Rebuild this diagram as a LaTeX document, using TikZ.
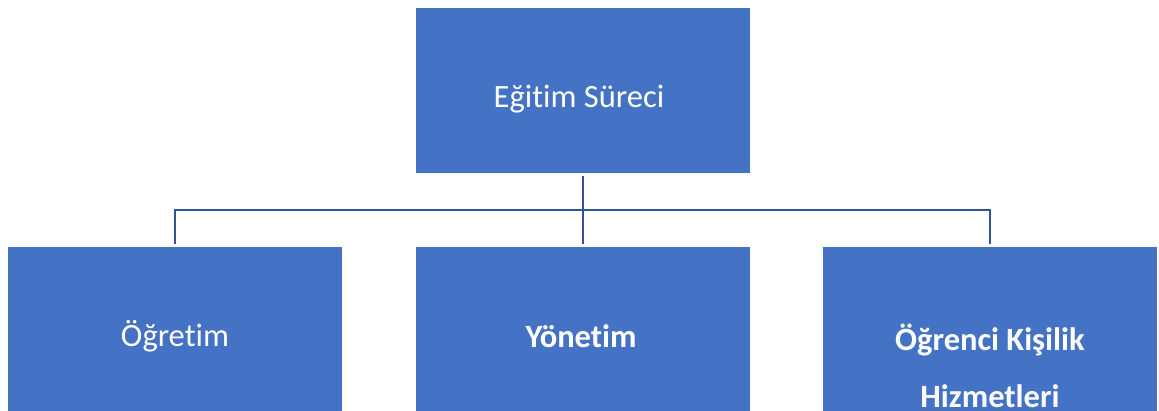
\documentclass[tikz,border=0pt]{standalone}
\usepackage{fontspec}
\setmainfont{Carlito}[RawFeature={-liga}]
\definecolor{boxblue}{HTML}{4472C4}
\definecolor{linkblue}{HTML}{2F5597}
\begin{document}
\begin{tikzpicture}[x=1pt,y=-1pt,
  unit/.style={rectangle, fill=boxblue, draw=none, minimum width=334pt, inner sep=0pt},
  lbl/.style={text=white, align=center, inner sep=0pt, font=\fontsize{32.5}{57}\selectfont},
  link/.style={draw=linkblue, line width=2.6pt}]
\useasboundingbox (0,0) rectangle (1159,410);
\begin{scope}
\clip (0,0) rectangle (1159,410);
\node[unit, minimum height=165pt] (top) at (583,90.5) {};
\node[unit, minimum height=178pt] (left) at (175,336) {};
\node[unit, minimum height=178pt] (mid) at (583,336) {};
\node[unit, minimum height=178pt] (right) at (990,336) {};
\node[lbl] (ttext) at (579,99) {Eğitim Süreci};
\node[lbl] (ltext) at (175,336) {Öğretim};
\node[lbl, font=\fontsize{32.5}{57}\selectfont\bfseries] (mtext) at (581,336) {Yönetim};
\node[lbl, font=\fontsize{32.5}{57}\selectfont\bfseries] (rtext) at (990,366) {Öğrenci Kişilik\\Hizmetleri};
\end{scope}
\coordinate (j) at (583,210);
\draw[link] ([yshift=-3pt]top.south) -- ([yshift=3pt]mid.north);
\draw[link] ([yshift=3pt]left.north) |- (j) -| ([yshift=3pt]right.north);
\end{tikzpicture}
\end{document}
